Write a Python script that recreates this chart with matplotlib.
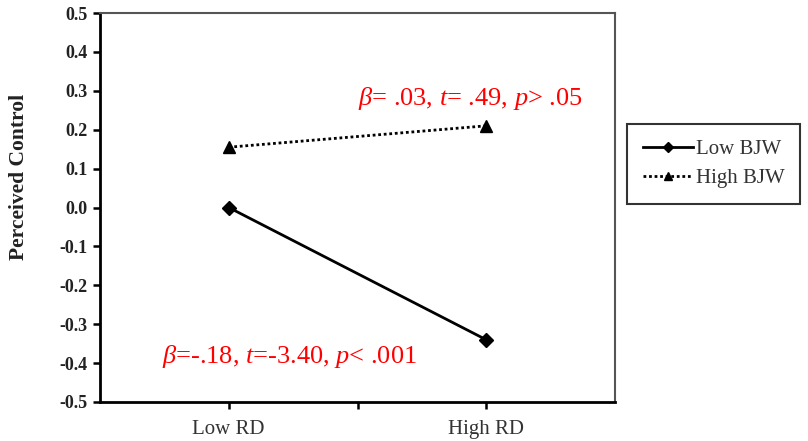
import matplotlib
matplotlib.use("Agg")
import matplotlib.pyplot as plt

categories = ["Low RD", "High RD"]
x_pos = [1, 3]
low_bjw = [0.00, -0.34]
high_bjw = [0.155, 0.21]
y_ticks = [-0.5, -0.4, -0.3, -0.2, -0.1, 0.0, 0.1, 0.2, 0.3, 0.4, 0.5]
series_names = ["Low BJW", "High BJW"]

plt.rcParams['font.family'] = ['Liberation Serif', 'DejaVu Serif']
plt.rcParams['mathtext.fontset'] = 'custom'
plt.rcParams['mathtext.rm'] = 'Liberation Serif'
plt.rcParams['mathtext.it'] = 'Liberation Serif:italic'

fig = plt.figure(figsize=(8.08, 4.41), dpi=100)
ax = fig.add_axes([100/808, 1 - 402/441, (615-100)/808, (402-13)/441])

ax.plot(x_pos, low_bjw, color='black', lw=2, marker='D', ms=7, label=series_names[0])
ax.plot(x_pos, high_bjw, color='black', lw=2, ls=(0, (1, 1)), marker='^', ms=8, label=series_names[1])

ax.set_xlim(0, 4)
ax.set_ylim(-0.5, 0.5)
ax.set_yticks(y_ticks)
ax.set_yticklabels([f"{v:.1f}" for v in y_ticks], fontweight='bold', fontsize=13, color='#222222')
ax.set_xticks([1, 2, 3])
ax.set_xticklabels([categories[0], "", categories[1]], fontsize=15, color='#333333')
ax.tick_params(axis='both', direction='out', length=5, width=1.8, color='black')
ax.tick_params(axis='x', pad=8)
ax.tick_params(axis='y', pad=4)

for s in ['left', 'bottom']:
    ax.spines[s].set_linewidth(2)
    ax.spines[s].set_color('black')
for s in ['top', 'right']:
    ax.spines[s].set_linewidth(1.5)
    ax.spines[s].set_color('#555555')

ax.set_ylabel("Perceived Control", fontweight='bold', fontsize=15.5, color='#222222')
ax.yaxis.set_label_coords(-0.138, 0.578)

fig.text(358/808, 1 - 98/441, r"$\beta$= .03, $t$= .49, $p$> .05", color='red', fontsize=19, va='center', ha='left')
fig.text(162/808, 1 - 357/441, r"$\beta$=-.18, $t$=-3.40, $p$< .001", color='red', fontsize=19, va='center', ha='left')

leg = fig.legend(loc='upper left', bbox_to_anchor=(627/808, 1 - 124/441), frameon=True, fancybox=False,
                 edgecolor='black', fontsize=15, handlelength=2.4, borderpad=0.75, labelspacing=0.45,
                 handletextpad=0.15, markerscale=0.75, borderaxespad=0)
leg.get_frame().set_linewidth(1.5)
for t in leg.get_texts():
    t.set_color('#333333')

fig.savefig("out.png", dpi=100)
